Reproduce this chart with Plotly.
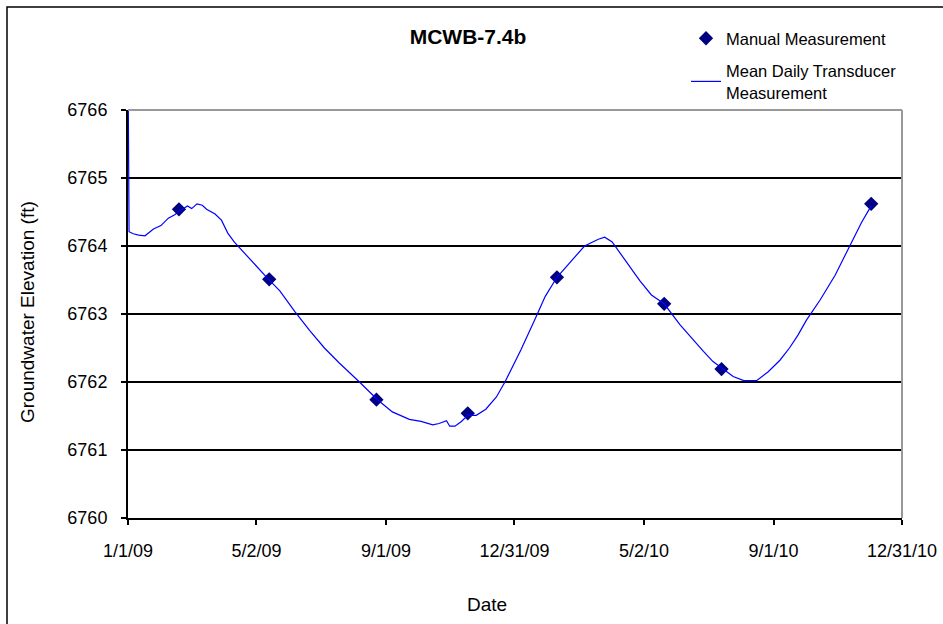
import plotly.graph_objects as go

# Manual measurements
manual_dates = ["2009-02-18", "2009-05-14", "2009-08-23", "2009-11-17",
                "2010-02-09", "2010-05-21", "2010-07-14", "2010-12-02"]
manual_vals = [6764.54, 6763.51, 6761.74, 6761.54,
               6763.54, 6763.15, 6762.19, 6764.62]

trans_dates = [
    "2009-01-01", "2009-01-02", "2009-01-06", "2009-01-11", "2009-01-17", "2009-01-25",
    "2009-02-01", "2009-02-08", "2009-02-14", "2009-02-19", "2009-02-26",
    "2009-03-02", "2009-03-07", "2009-03-12", "2009-03-16", "2009-03-24", "2009-03-30",
    "2009-04-05", "2009-04-11", "2009-04-19", "2009-04-29", "2009-05-11", "2009-05-24",
    "2009-06-07", "2009-06-21", "2009-07-05", "2009-07-19", "2009-07-29", "2009-08-07",
    "2009-08-24", "2009-09-07", "2009-09-23", "2009-10-04", "2009-10-15", "2009-10-21",
    "2009-10-28", "2009-10-31", "2009-11-05", "2009-11-11", "2009-11-17", "2009-11-25",
    "2009-12-04", "2009-12-14", "2009-12-22", "2009-12-30", "2010-01-06", "2010-01-19",
    "2010-01-29", "2010-02-09", "2010-02-21", "2010-03-07", "2010-03-20", "2010-03-26",
    "2010-04-02", "2010-04-14", "2010-04-28", "2010-05-09", "2010-05-21", "2010-06-05",
    "2010-06-17", "2010-06-27", "2010-07-06", "2010-07-15", "2010-07-25", "2010-08-04",
    "2010-08-16", "2010-08-27", "2010-09-07", "2010-09-16", "2010-09-24", "2010-10-02",
    "2010-10-15", "2010-10-29", "2010-11-12", "2010-11-23", "2010-12-02",
]
trans_vals = [
    6766.8, 6764.21, 6764.18, 6764.16, 6764.15, 6764.25,
    6764.30, 6764.41, 6764.46, 6764.52, 6764.59,
    6764.55, 6764.62, 6764.60, 6764.54, 6764.47, 6764.38,
    6764.19, 6764.06, 6763.92, 6763.75, 6763.55, 6763.34,
    6763.04, 6762.76, 6762.50, 6762.28, 6762.14, 6762.00,
    6761.74, 6761.56, 6761.45, 6761.42, 6761.37, 6761.39,
    6761.43, 6761.35, 6761.35, 6761.42, 6761.51, 6761.51,
    6761.60, 6761.78, 6762.00, 6762.25, 6762.47, 6762.91,
    6763.26, 6763.54, 6763.76, 6764.00, 6764.10, 6764.13,
    6764.06, 6763.79, 6763.49, 6763.28, 6763.15, 6762.84,
    6762.62, 6762.45, 6762.30, 6762.19, 6762.08, 6762.02,
    6762.02, 6762.15, 6762.32, 6762.50, 6762.69, 6762.91,
    6763.21, 6763.57, 6764.01, 6764.35, 6764.59,
]

x_tick_vals = ["2009-01-01", "2009-05-02", "2009-09-01", "2009-12-31",
               "2010-05-02", "2010-09-01", "2010-12-31"]
x_tick_text = ["1/1/09", "5/2/09", "9/1/09", "12/31/09", "5/2/10", "9/1/10", "12/31/10"]
y_tick_vals = [6760, 6761, 6762, 6763, 6764, 6765, 6766]

FONT = "Liberation Sans, Arial, sans-serif"

fig = go.Figure()
fig.add_trace(go.Scatter(
    x=manual_dates, y=manual_vals, mode="markers", name="Manual Measurement",
    legendgroup="a",
    marker=dict(symbol="diamond", size=11, color="#000080"),
))
fig.add_trace(go.Scatter(
    x=trans_dates, y=trans_vals, mode="lines",
    name="Mean Daily Transducer<br>Measurement", legendgroup="b",
    line=dict(color="#0000FF", width=1.2),
))

W, H = 943, 624
L, R, T, B = 128, 902, 110, 518

def px(x):
    return (x - L) / (R - L)

def py(y):
    return (B - y) / (B - T)

fig.update_layout(
    width=W, height=H,
    margin=dict(l=L, r=W - R, t=T, b=H - B, autoexpand=False),
    paper_bgcolor="white", plot_bgcolor="white",
    font=dict(family=FONT, size=17, color="black"),
    title=dict(text="<b>MCWB-7.4b</b>", x=468 / W, xanchor="center",
               y=1 - 37 / H, yanchor="middle", xref="container", yref="container",
               font=dict(size=21, family=FONT, color="black")),
    showlegend=True,
    legend=dict(x=686 / W, y=1 - 21 / H, xref="container", yref="container",
                xanchor="left", yanchor="top", bgcolor="rgba(0,0,0,0)",
                font=dict(size=16.5, family=FONT), traceorder="grouped",
                tracegroupgap=8, itemwidth=30),
    xaxis=dict(range=["2009-01-01", "2010-12-31"], tickvals=x_tick_vals,
               ticktext=x_tick_text, ticks="outside", ticklen=5, tickwidth=1.5,
               tickcolor="black", showline=True, linecolor="black", linewidth=2,
               showgrid=False, zeroline=False, tickfont=dict(size=18),
               ticklabelstandoff=10),
    yaxis=dict(range=[6760, 6766], tickvals=y_tick_vals, ticks="outside",
               ticklen=5, tickwidth=1.5, tickcolor="black", showline=True,
               linecolor="black", linewidth=2, showgrid=True, gridcolor="black",
               gridwidth=1.5, zeroline=False, tickfont=dict(size=18),
               tickformat="d", ticklabelstandoff=10),
    shapes=[
        dict(type="line", xref="paper", yref="paper", x0=0, x1=1, y0=1, y1=1,
             line=dict(color="#999999", width=2), layer="above"),
        dict(type="line", xref="paper", yref="paper", x0=1, x1=1, y0=0, y1=1,
             line=dict(color="#999999", width=2), layer="above"),
        dict(type="rect", xref="paper", yref="paper", x0=px(7), x1=px(960),
             y0=py(640), y1=py(7), line=dict(color="black", width=1.5)),
    ],
    annotations=[
        dict(text="Groundwater Elevation (ft)", xref="paper", yref="paper",
             x=px(27), y=py(312), textangle=-90, showarrow=False,
             xanchor="center", yanchor="middle", font=dict(size=19)),
        dict(text="Date", xref="paper", yref="paper", x=px(487), y=py(604),
             showarrow=False, xanchor="center", yanchor="middle",
             font=dict(size=19)),
    ],
)

fig.write_html("out.html", config={"displayModeBar": False},
               post_script="document.body.style.margin='0';"
                           "document.body.style.overflow='hidden';")
